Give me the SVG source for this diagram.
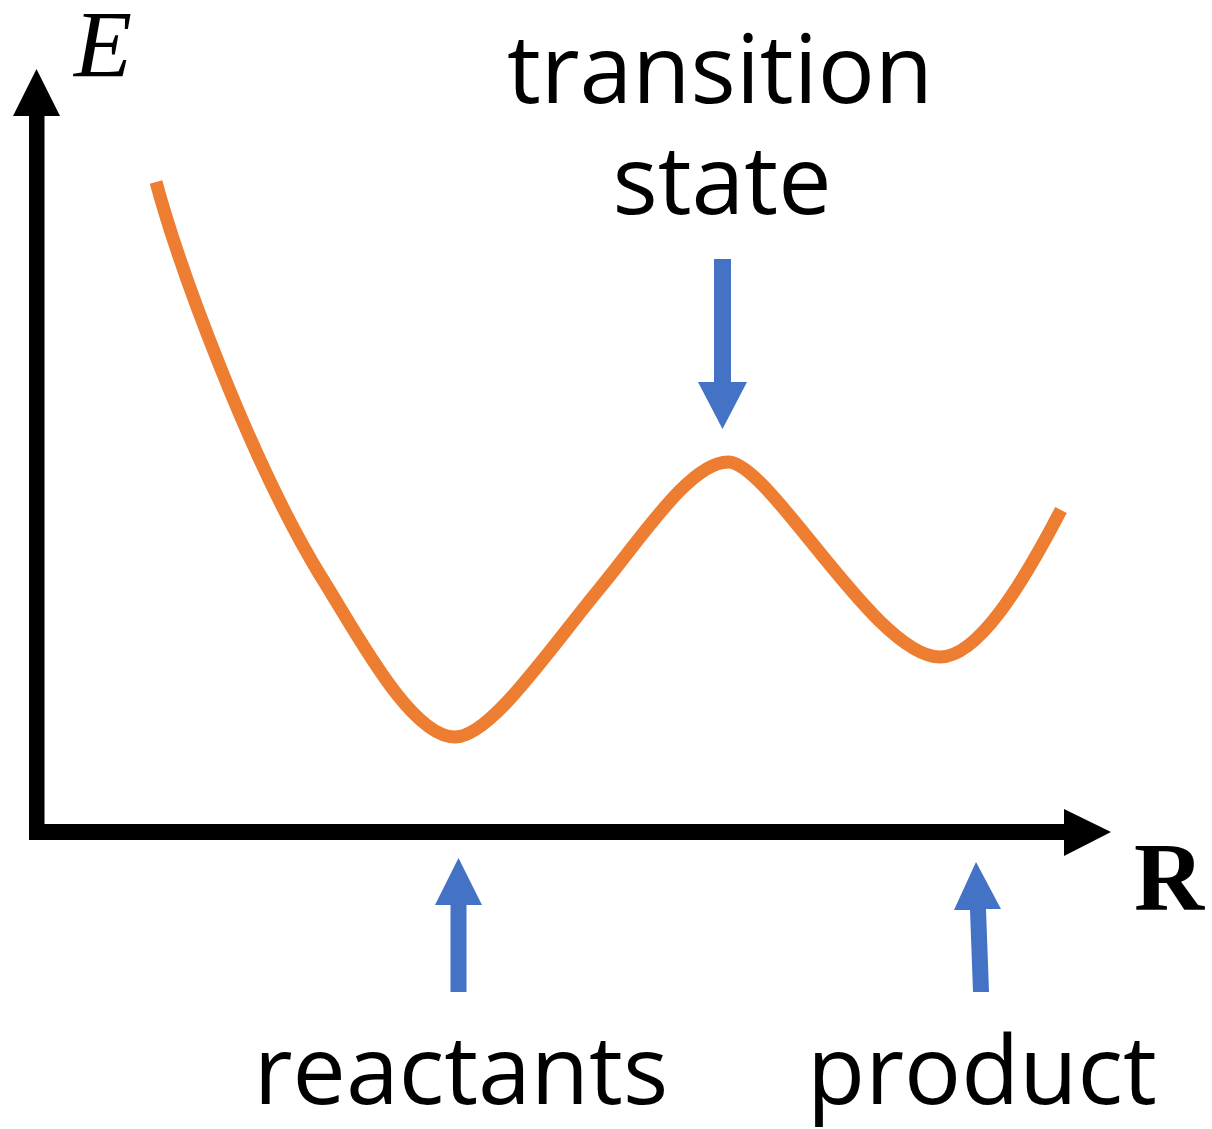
<svg xmlns="http://www.w3.org/2000/svg" width="1212" height="1129" viewBox="0 0 1212 1129">
<style>
.axis{fill:#000}
.blue{fill:#4472C4}
.lbl{font-family:"Open Sans","Noto Sans",sans-serif;font-size:95px;fill:#000;text-anchor:middle}
.curve{fill:none;stroke:#ED7D31;stroke-width:13;stroke-linejoin:round}
</style>
<rect width="1212" height="1129" fill="#fff"/>
<g id="axes">
<rect class="axis" x="29" y="114" width="15.5" height="726"/>
<polygon class="axis" points="13,116 60,116 36.5,69"/>
<rect class="axis" x="29" y="824" width="1037" height="16"/>
<polygon class="axis" points="1064,809 1111,832 1064,856"/>
<text x="74" y="77" font-family="'Liberation Serif',serif" font-style="italic" font-size="95">E</text>
<text x="1134" y="910" font-family="'Liberation Serif',serif" font-weight="bold" font-size="97">R</text>
</g>
<g id="energy-curve">
<path class="curve" d="M156,182 C180,270 250,460 320,575 C355,630 410,737 455,737 C490,737 545,655 600,588 C640,540 690,462 728,462 C770,462 875,657 940,657 C978,657 1022,585 1061,510"/>
</g>
<g id="connectors">
<polygon class="blue" points="714,259 731,259 731,382 747,382 722.5,429 698,382 714,382"/>
<polygon class="blue" points="450.5,992 466.5,992 466.5,905 482,905 458.5,858 435,905 450.5,905"/>
<polygon class="blue" points="973,992 989,992 986,909 1001,909 976,862 954,910 970,910"/>
</g>
<g id="transition-state">
<text class="lbl" x="720" y="103">transition</text>
<text class="lbl" x="722" y="214">state</text>
</g>
<g id="reactants">
<text class="lbl" x="461" y="1104">reactants</text>
</g>
<g id="product">
<text class="lbl" x="982" y="1104">product</text>
</g>
</svg>
